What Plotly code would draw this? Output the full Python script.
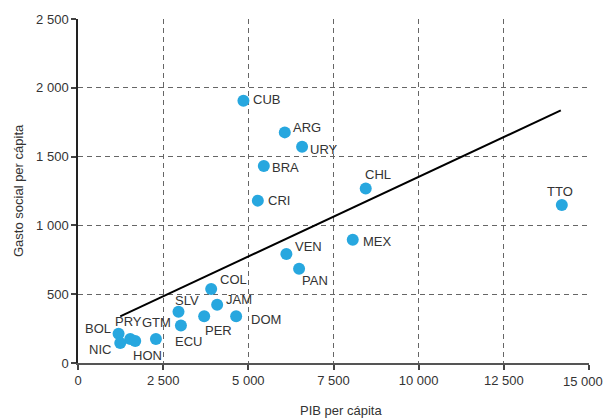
import plotly.graph_objects as go

countries = ["CUB", "ARG", "URY", "BRA", "CRI", "CHL", "MEX", "VEN", "PAN", "TTO",
             "COL", "JAM", "SLV", "DOM", "PER", "ECU", "GTM", "PRY", "HON", "BOL", "NIC"]
pib = [4856, 6070, 6578, 5455, 5279, 8446, 8065, 6117, 6490, 14202,
       3909, 4085, 2950, 4642, 3704, 3021, 2287, 1534, 1680, 1191, 1240]
gasto = [1906, 1676, 1572, 1432, 1180, 1269, 896, 792, 685, 1148,
         538, 424, 373, 339, 339, 273, 174, 174, 160, 213, 145]

trend_x = [1240, 14173]
trend_y = [339, 1836]

x_ticks = [0, 2500, 5000, 7500, 10000, 12500, 15000]
x_ticktext = ["0", "2 500", "5 000", "7 500", "10 000", "12 500", "15 000"]
y_ticks = [0, 500, 1000, 1500, 2000, 2500]
y_ticktext = ["0", "500", "1 000", "1 500", "2 000", "2 500"]

# label offsets in pixels (dx, dy up) relative to each point
label_offsets = {
    "CUB": (23, 1), "ARG": (22, 5), "URY": (22, -3), "BRA": (22, -2), "CRI": (21, 0),
    "CHL": (12, 14), "MEX": (25, -2), "VEN": (22, 8), "PAN": (16, -12), "TTO": (-2, 14),
    "COL": (22, 9), "JAM": (22, 5), "SLV": (8, 11), "DOM": (30, -3), "PER": (14, -14),
    "ECU": (8, -16), "GTM": (1, 17), "PRY": (-2, 18), "HON": (12, -15), "BOL": (-21, 5),
    "NIC": (-20, -6),
}

font_family = "Liberation Sans, Arial, sans-serif"
text_color = "#333333"

fig = go.Figure()
fig.add_trace(go.Scatter(
    x=trend_x, y=trend_y, mode="lines",
    line=dict(color="#000000", width=2), hoverinfo="skip", showlegend=False,
))
fig.add_trace(go.Scatter(
    x=pib, y=gasto, mode="markers", text=countries,
    marker=dict(color="#27a7df", size=12, line=dict(width=0)),
    showlegend=False,
))

annotations = []
for c, xv, yv in zip(countries, pib, gasto):
    dx, dy = label_offsets[c]
    annotations.append(dict(
        x=xv, y=yv, xref="x", yref="y", text=c, showarrow=False,
        xshift=dx, yshift=dy, xanchor="center", yanchor="middle",
        font=dict(family=font_family, size=13, color=text_color),
    ))

# last x tick label is drawn nudged left so it fits inside the page
shown_ticktext = x_ticktext[:-1] + [""]
annotations.append(dict(
    x=x_ticks[-1], y=0, xref="x", yref="paper", text=x_ticktext[-1], showarrow=False,
    xshift=-6, yshift=-18, xanchor="center", yanchor="middle",
    font=dict(family=font_family, size=13, color=text_color),
))

annotations.append(dict(
    x=0.5, y=0, xref="paper", yref="paper", text="PIB per cápita", showarrow=False,
    xshift=7, yshift=-47, xanchor="center", yanchor="middle",
    font=dict(family=font_family, size=13, color=text_color),
))
annotations.append(dict(
    x=0, y=0.5, xref="paper", yref="paper", text="Gasto social per cápita", showarrow=False,
    xshift=-60, xanchor="center", yanchor="middle", textangle=-90,
    font=dict(family=font_family, size=13, color=text_color),
))

axis_common = dict(
    showgrid=True, gridcolor="#666666", griddash="5px,4px", gridwidth=1,
    zeroline=False, showline=True, linewidth=1.5,
    ticks="outside", ticklen=5, tickwidth=1.5, tickcolor="#444444",
    tickfont=dict(family=font_family, size=13, color=text_color),
    automargin=False,
)

fig.update_xaxes(range=[0, 15000], tickvals=x_ticks, ticktext=shown_ticktext,
                 linecolor="#555555", **axis_common)
fig.update_yaxes(range=[0, 2500], tickvals=y_ticks, ticktext=y_ticktext,
                 linecolor="#222222", **axis_common)

fig.update_layout(
    width=605, height=418,
    margin=dict(l=78, r=16, t=19, b=55),
    plot_bgcolor="white", paper_bgcolor="white",
    annotations=annotations,
    font=dict(family=font_family, size=13, color=text_color),
)

fig.write_html(
    "out.html",
    config={"displayModeBar": False},
    post_script="document.body.style.margin='0';document.body.style.overflow='hidden';",
)
